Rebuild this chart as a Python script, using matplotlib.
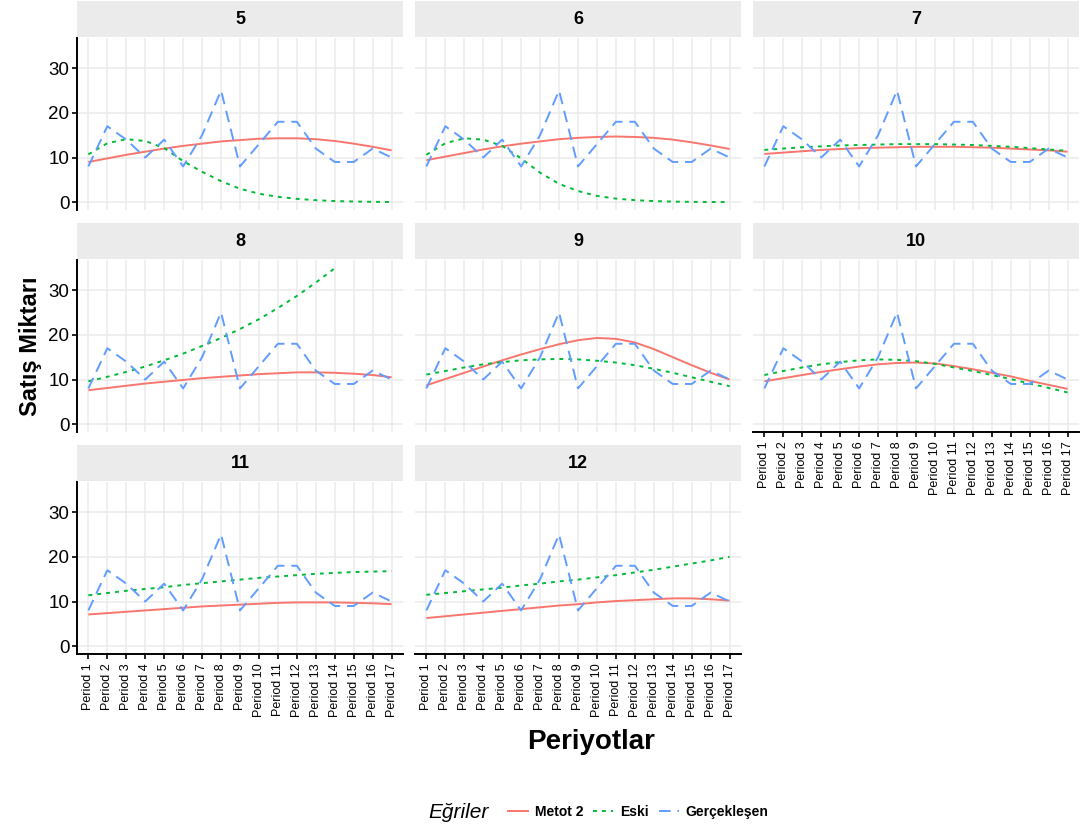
import matplotlib
matplotlib.use("Agg")
import matplotlib.pyplot as plt
from matplotlib.lines import Line2D

plt.rcParams['font.family'] = ['Liberation Sans', 'DejaVu Sans']

periods = ['Period %d' % i for i in range(1, 18)]
panels = ['5', '6', '7', '8', '9', '10', '11', '12']

actual = [8, 17, 14, 10, 14, 8, 15, 25, 8, 13, 18, 18, 12, 9, 9, 12, 10]

metot2 = {
    '5': [9.0, 9.8, 10.6, 11.3, 12.0, 12.6, 13.1, 13.6, 13.9, 14.2, 14.3, 14.3, 14.1, 13.7, 13.1, 12.4, 11.6],
    '6': [9.4, 10.2, 11.0, 11.8, 12.5, 13.1, 13.6, 14.1, 14.4, 14.6, 14.7, 14.6, 14.4, 14.0, 13.4, 12.7, 11.9],
    '7': [10.8, 11.1, 11.4, 11.7, 11.9, 12.1, 12.2, 12.3, 12.4, 12.4, 12.4, 12.3, 12.2, 12.0, 11.8, 11.6, 11.3],
    '8': [7.6, 8.1, 8.6, 9.1, 9.5, 9.9, 10.3, 10.6, 10.9, 11.2, 11.4, 11.6, 11.6, 11.5, 11.3, 11.0, 10.5],
    '9': [8.7, 10.1, 11.5, 12.9, 14.3, 15.6, 16.8, 17.9, 18.8, 19.3, 19.1, 18.3, 16.8, 15.0, 13.2, 11.5, 10.0],
    '10': [9.6, 10.3, 11.0, 11.7, 12.3, 12.9, 13.4, 13.7, 13.8, 13.6, 13.0, 12.3, 11.5, 10.7, 9.7, 8.8, 7.9],
    '11': [7.1, 7.4, 7.7, 8.0, 8.3, 8.6, 8.9, 9.1, 9.3, 9.5, 9.7, 9.8, 9.8, 9.8, 9.7, 9.6, 9.4],
    '12': [6.3, 6.7, 7.1, 7.5, 7.9, 8.3, 8.7, 9.1, 9.4, 9.8, 10.1, 10.3, 10.5, 10.7, 10.7, 10.5, 10.2],
}

eski = {
    '5': [10.7, 13.2, 14.1, 13.7, 12.1, 9.2, 6.8, 4.7, 3.0, 1.9, 1.2, 0.75, 0.45, 0.25, 0.15, 0.08, 0.04],
    '6': [10.6, 13.2, 14.3, 14.0, 12.6, 9.8, 6.6, 4.1, 2.5, 1.4, 0.8, 0.45, 0.25, 0.13, 0.07, 0.04, 0.02],
    '7': [11.7, 12.0, 12.3, 12.5, 12.7, 12.8, 12.9, 13.0, 13.0, 13.0, 12.9, 12.8, 12.6, 12.4, 12.1, 11.8, 11.5],
    '8': [9.6, 10.6, 11.7, 12.9, 14.3, 15.8, 17.5, 19.3, 21.3, 23.5, 26.0, 28.7, 31.7, 34.9, None, None, None],
    '9': [11.1, 11.9, 12.7, 13.4, 13.9, 14.3, 14.5, 14.6, 14.5, 14.2, 13.8, 13.2, 12.4, 11.5, 10.5, 9.5, 8.5],
    '10': [11.0, 11.9, 12.7, 13.4, 13.9, 14.3, 14.5, 14.4, 14.1, 13.5, 12.7, 11.9, 11.0, 10.1, 9.1, 8.1, 7.1],
    '11': [11.4, 11.9, 12.4, 12.8, 13.2, 13.7, 14.1, 14.5, 14.9, 15.3, 15.6, 15.9, 16.2, 16.4, 16.6, 16.7, 16.8],
    '12': [11.5, 11.9, 12.3, 12.7, 13.1, 13.6, 14.0, 14.5, 14.9, 15.4, 15.9, 16.5, 17.1, 17.8, 18.5, 19.2, 20.0],
}

W, H = 1086, 832
fig = plt.figure(figsize=(W / 100, H / 100), dpi=100)

col_left = [77, 415, 753]
row_top = [38, 260, 482]
pw, ph, sh = 326, 172, 36

x = list(range(1, 18))
red, green, blue = '#F8766D', '#00BA38', '#619CFF'

for i, p in enumerate(panels):
    r, c = divmod(i, 3)
    left, top = col_left[c], row_top[r]
    ax = fig.add_axes([left / W, 1 - (top + ph) / H, pw / W, ph / H])
    st = fig.add_axes([left / W, 1 - (top - 1) / H, pw / W, sh / H])
    st.set_facecolor('#EBEBEB')
    st.set_xticks([])
    st.set_yticks([])
    for s in st.spines.values():
        s.set_visible(False)
    st.text(0.5, 0.5, p, ha='center', va='center', fontsize=13, fontweight='bold')

    ax.plot(x, metot2[p], color=red, lw=1.4, solid_capstyle='butt')
    ax.plot(x, [v if v is not None else float('nan') for v in eski[p]], color=green, lw=1.4,
            dashes=(2, 2.6))
    ax.plot(x, actual, color=blue, lw=1.4, dashes=(6, 3.5))

    ax.set_xlim(0.4, 17.6)
    ax.set_ylim(-1.75, 36.75)
    ax.set_yticks([0, 10, 20, 30])
    ax.set_xticks(x)
    ax.grid(True, color='#EBEBEB', lw=1.1)
    ax.set_axisbelow(True)
    for s in ax.spines.values():
        s.set_visible(False)

    bottom_row = (i + 3) >= len(panels)
    if c == 0:
        ax.spines['left'].set_visible(True)
        ax.spines['left'].set_linewidth(1.4)
        ax.tick_params(axis='y', length=3.5, width=1.2, labelsize=13.5, colors='black', pad=2)
    else:
        ax.tick_params(axis='y', length=0, labelleft=False)
    if bottom_row:
        ax.spines['bottom'].set_visible(True)
        ax.spines['bottom'].set_linewidth(1.4)
        ax.set_xticklabels(periods, rotation=90)
        ax.tick_params(axis='x', length=3.5, width=1.2, labelsize=9, colors='black', pad=3)
    else:
        ax.tick_params(axis='x', length=0, labelbottom=False)

fig.text(30 / W, 1 - 346 / H, 'Satış Miktarı', rotation=90, ha='center', va='center',
         fontsize=17, fontweight='bold')
fig.text(591 / W, 1 - 742 / H, 'Periyotlar', ha='center', va='center',
         fontsize=20, fontweight='bold')

handles = [Line2D([], [], color=red, lw=1.4),
           Line2D([], [], color=green, lw=1.4, dashes=(2, 2.6)),
           Line2D([], [], color=blue, lw=1.4, dashes=(6, 3.5))]
fig.legend(handles, ['Metot 2', 'Eski', 'Gerçekleşen'], ncol=3, loc='center left',
           bbox_to_anchor=(508 / W, 1 - 812 / H), frameon=False,
           prop={'weight': 'bold', 'size': 10}, handlelength=1.45,
           handletextpad=0.5, columnspacing=0.7, borderpad=0, borderaxespad=0)
fig.text(428 / W, 1 - 812 / H, 'Eğriler', ha='left', va='center', fontsize=15,
         fontstyle='italic')

fig.savefig('out.png', dpi=100)
